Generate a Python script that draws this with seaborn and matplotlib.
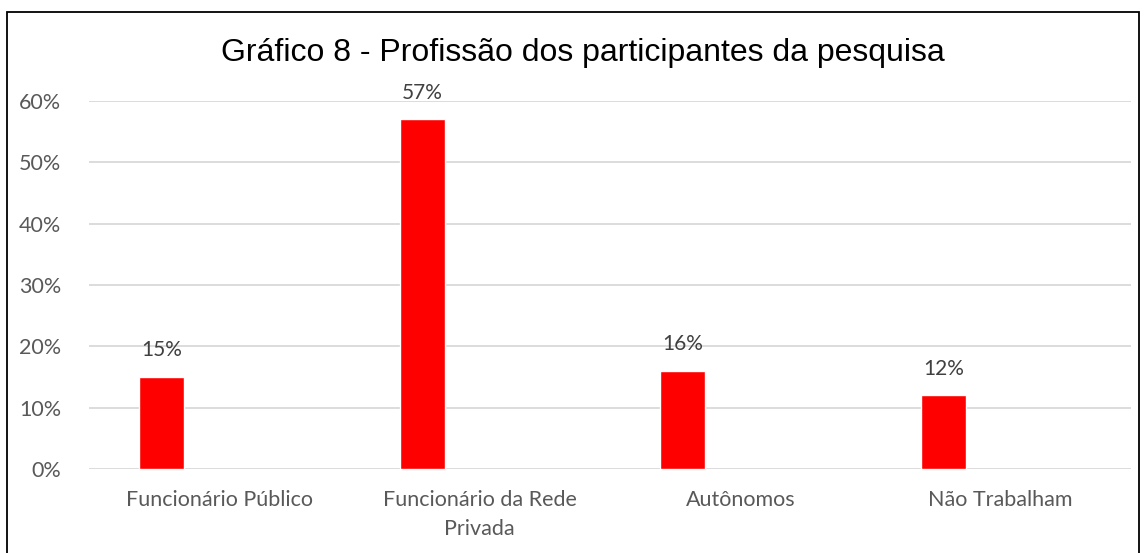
import seaborn as sns
import matplotlib.pyplot as plt
from matplotlib.patches import Rectangle
from matplotlib.ticker import PercentFormatter

# data
categorias = ["Funcionário Público", "Funcionário da Rede\nPrivada", "Autônomos", "Não Trabalham"]
percentuais = [0.15, 0.57, 0.16, 0.12]
rotulos = ["15%", "57%", "16%", "12%"]

sns.set_style("white")
plt.rcParams["font.family"] = ["Lato", "DejaVu Sans"]

fig = plt.figure(figsize=(11.47, 5.53), dpi=100)
ax = fig.add_axes([89 / 1147, 84 / 553, (1131 - 89) / 1147, (469 - 101) / 553])

sns.barplot(x=categorias, y=percentuais, color="#ff0000", saturation=1,
            width=0.173, ax=ax, zorder=3)

# Excel style: bar sits left of the category center
for p, txt in zip(ax.patches, rotulos):
    p.set_x(p.get_x() - 0.22)
    ax.annotate(txt, (p.get_x() + p.get_width() / 2, p.get_height()),
                xytext=(0, 12), textcoords="offset points",
                ha="center", va="bottom", fontsize=15, color="#404040")

ax.set_ylim(0, 0.6)
ax.set_xlim(-0.5, 3.5)
ax.yaxis.set_major_formatter(PercentFormatter(1.0, decimals=0))
ax.set_yticks([0, 0.1, 0.2, 0.3, 0.4, 0.5, 0.6])
ax.yaxis.grid(True, color="#d9d9d9", linewidth=1.3, zorder=0)
ax.set_axisbelow(True)
for s in ax.spines.values():
    s.set_visible(False)
ax.tick_params(axis="both", length=0, labelcolor="#595959")
ax.tick_params(axis="y", labelsize=15.5, pad=20)
ax.tick_params(axis="x", labelsize=15.5, pad=15)
for lbl in ax.get_xticklabels():
    lbl.set_linespacing(1.55)
ax.set_xlabel("")
ax.set_ylabel("")

fig.text(583 / 1147, 1 - 53 / 553, "Gráfico 8 - Profissão dos participantes da pesquisa",
         ha="center", va="center", fontsize=23, family=["Liberation Sans", "DejaVu Sans"],
         color="black")

# outer border
fig.add_artist(Rectangle((7 / 1147, -0.01), (1139 - 7) / 1147, 1 - 12 / 553 + 0.01,
                         transform=fig.transFigure, fill=False, edgecolor="black",
                         linewidth=1.3))

fig.savefig("out.png", dpi=100)
